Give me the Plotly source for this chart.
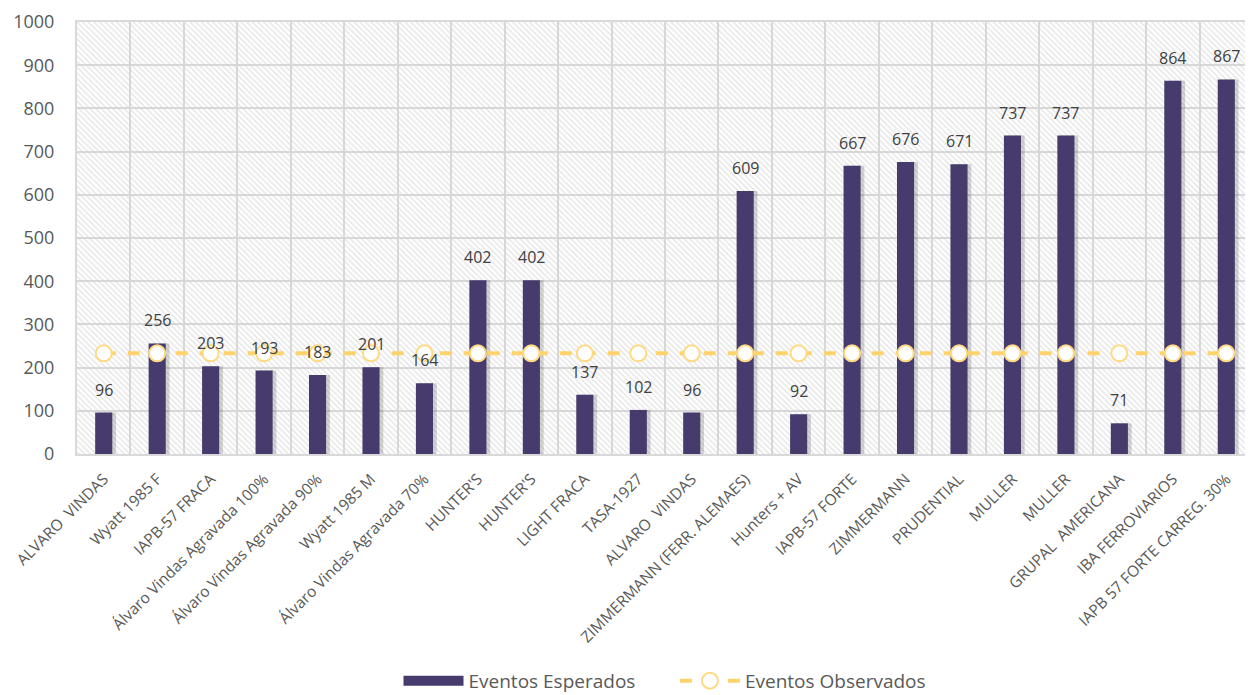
import plotly.graph_objects as go

categories = ["ALVARO  VINDAS", "Wyatt 1985 F", "IAPB-57 FRACA", "Álvaro Vindas Agravada 100%",
              "Álvaro Vindas Agravada 90%", "Wyatt 1985 M", "Álvaro Vindas Agravada 70%",
              "HUNTER'S", "HUNTER'S", "LIGHT FRACA", "TASA-1927", "ALVARO  VINDAS",
              "ZIMMERMANN (FERR. ALEMAES)", "Hunters + AV", "IAPB-57 FORTE", "ZIMMERMANN",
              "PRUDENTIAL", "MULLER", "MULLER", "GRUPAL  AMERICANA", "IBA FERROVIARIOS",
              "IAPB 57 FORTE CARREG. 30%"]
esperados = [96, 256, 203, 193, 183, 201, 164, 402, 402, 137, 102, 96, 609, 92, 667, 676,
             671, 737, 737, 71, 864, 867]
observados = [233] * len(categories)
y_ticks = list(range(0, 1001, 100))

xs = list(range(len(categories)))
n = len(categories)
FONT = "Open Sans"
TXT = "#595959"
BAR = "#463B6C"
GOLD = "#FFD36B"
PAD = "\u00a0" * 7

fig = go.Figure()

# hatched plot-area background
fig.add_trace(go.Bar(
    x=[(n - 1) / 2], y=[y_ticks[-1]], width=[n], showlegend=False, hoverinfo="skip",
    marker=dict(color="rgba(0,0,0,0)", line=dict(width=0),
                pattern=dict(shape="\\", fgcolor="#d0d0d0", bgcolor="rgba(0,0,0,0)",
                             size=4, solidity=0.4, fillmode="overlay")),
))

# bar shadow
fig.add_trace(go.Bar(
    x=xs, y=esperados, width=0.32, offset=-0.09, showlegend=False, hoverinfo="skip",
    marker=dict(color="rgba(0,0,0,0.16)", line=dict(width=0)),
))

fig.add_trace(go.Bar(
    x=xs, y=esperados, width=0.32, offset=-0.16, name="Eventos Esperados",
    marker=dict(color=BAR, line=dict(width=0)), showlegend=False,
))

# legend stand-in for the bars (wide rectangle)
fig.add_trace(go.Scatter(
    x=[None], y=[None], mode="lines", name="Eventos Esperados" + PAD,
    line=dict(color=BAR, width=17),
))

fig.add_trace(go.Scatter(
    x=xs, y=observados, mode="lines+markers", name="Eventos Observados",
    line=dict(color=GOLD, width=4, dash="dash"),
    marker=dict(size=16, color="white", line=dict(color="#FFDA85", width=2)),
))

for xi, v in zip(xs, esperados):
    fig.add_annotation(x=xi, y=v, text=str(v), showarrow=False, yanchor="bottom", yshift=10,
                       font=dict(family=FONT, size=16, color="#404040"))

fig.update_layout(
    width=1245, height=687,
    margin=dict(l=69, r=0, t=14, b=241, autoexpand=False),
    barmode="overlay",
    paper_bgcolor="white", plot_bgcolor="white",
    font=dict(family=FONT, color=TXT),
    showlegend=True,
    legend=dict(orientation="h", x=0.5, xanchor="center", y=-0.525, yanchor="middle",
                font=dict(family=FONT, size=19, color=TXT), itemwidth=60,
                traceorder="normal"),
    xaxis=dict(
        range=[-0.5, n - 0.5], tickmode="array", tickvals=xs, ticktext=categories,
        tickangle=-45, tickfont=dict(family=FONT, size=15.5, color=TXT),
        showgrid=False, zeroline=False, ticks="", automargin=False, ticklabelstandoff=8,
        showline=True, linecolor="#d9d9d9", linewidth=2, mirror=True,
        minor=dict(tick0=-0.5, dtick=1, showgrid=True, gridcolor="#d9d9d9", gridwidth=1.5, ticks=""),
    ),
    yaxis=dict(
        range=[0, 1000], tickmode="array", tickvals=y_ticks,
        tickfont=dict(family=FONT, size=18, color=TXT), automargin=False,
        showgrid=True, gridcolor="#d9d9d9", gridwidth=1.5, zeroline=False,
        showline=True, linecolor="#d9d9d9", linewidth=2, mirror=True, ticks="",
        ticklabelstandoff=17,
    ),
)

fig.write_html("out.html")
